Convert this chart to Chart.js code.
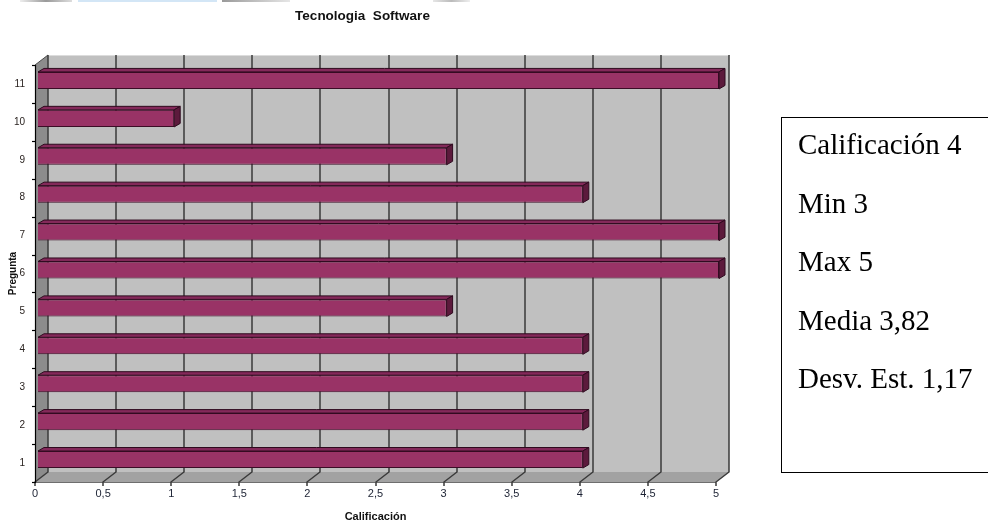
<!DOCTYPE html>
<html>
<head>
<meta charset="utf-8">
<script src="https://cdn.jsdelivr.net/npm/chart.js@4/dist/chart.umd.min.js"></script>
<style>
  html, body { margin: 0; padding: 0; background: #fff; }
  #wrap { position: relative; width: 988px; height: 524px; overflow: hidden; }
  #chart { position: absolute; left: 0; top: 0; }
  .strip { position: absolute; top: 0; height: 2px; }
  #stats {
    position: absolute; left: 781px; top: 117px; width: 240px; height: 356px;
    border: 1px solid #000; box-sizing: border-box; background: #fff;
  }
  #statsText {
    position: absolute; left: 798px; top: 115px;
    font-family: "Liberation Serif", "Times New Roman", serif;
    font-size: 29px; line-height: 58.5px; color: #000; white-space: nowrap;
  }
</style>
</head>
<body>
<div id="wrap">
  <div class="strip" style="left:20px;width:52px;background:linear-gradient(90deg,#eee,#9a9a9a,#ddd);"></div>
  <div class="strip" style="left:78px;width:139px;background:#d3e6f6;"></div>
  <div class="strip" style="left:222px;width:68px;background:linear-gradient(90deg,#9a9a9a,#e6e6e6);"></div>
  <div class="strip" style="left:433px;width:37px;background:linear-gradient(90deg,#e6e6e6,#bbb,#eee);"></div>
  <canvas id="chart" width="988" height="524"></canvas>
  <div id="stats"></div>
  <div id="statsText"></div>
</div>
<script>
// Questions (bottom to top) and their scores
const preguntas = ['1', '2', '3', '4', '5', '6', '7', '8', '9', '10', '11'];
const calificaciones = [4, 4, 4, 4, 3, 5, 5, 4, 3, 1, 5];

// Score axis range
const escalaMin = 0;
const escalaMax = 5;
const escalaPaso = 0.5;

// Summary shown in the side box
const resumen = ['Calificación 4', 'Min 3', 'Max 5', 'Media 3,82', 'Desv. Est. 1,17'];

document.getElementById('statsText').innerHTML =
  resumen.map(t => '<div>' + t + '</div>').join('');

// depth of the 3D box (walls) and of the bars
const DX = 13, DY = 10;
const BAR_SHIFT_X = 3, BAR_SHIFT_Y = 3.5;
const BDX = 6, BDY = 3.5;

function poly(ctx, pts, fill, stroke, lw) {
  ctx.beginPath();
  ctx.moveTo(pts[0][0], pts[0][1]);
  for (let i = 1; i < pts.length; i++) ctx.lineTo(pts[i][0], pts[i][1]);
  ctx.closePath();
  if (fill) { ctx.fillStyle = fill; ctx.fill(); }
  if (stroke) { ctx.strokeStyle = stroke; ctx.lineWidth = lw || 1; ctx.stroke(); }
}
function seg(ctx, x1, y1, x2, y2, color, lw) {
  ctx.beginPath();
  ctx.moveTo(x1, y1); ctx.lineTo(x2, y2);
  ctx.strokeStyle = color; ctx.lineWidth = lw || 1; ctx.stroke();
}

// Back wall, side wall, floor and grid of the 3D plot box
const walls3d = {
  id: 'walls3d',
  beforeDraw(chart) {
    const { ctx, chartArea: a, scales } = chart;
    const xs = scales.x, ys = scales.y;
    const L = a.left, R = a.right, T = a.top, B = a.bottom;
    ctx.save();
    poly(ctx, [[L, T], [L + DX, T - DY], [L + DX, B - DY], [L, B]], '#8c8c8c');
    ctx.fillStyle = '#c0c0c0';
    ctx.fillRect(L + DX, T - DY, R - L, B - T);
    poly(ctx, [[L, B], [L + DX, B - DY], [R + DX, B - DY], [R, B]], '#a2a2a2');

    // light top edge of the back wall
    seg(ctx, L + DX, T - DY + 0.5, R + DX + 1, T - DY + 0.5, '#dcdcdc', 1);
    // side wall top edge
    seg(ctx, L, T, L + DX, T - DY, '#4a4a4a', 1);
    // floor front edge
    seg(ctx, L, B + 0.5, R, B + 0.5, '#6e6e6e', 1);

    // value grid on the back wall, continued over the floor
    xs.ticks.forEach(t => {
      const px = Math.round(xs.getPixelForValue(t.value));
      ctx.beginPath();
      ctx.moveTo(px + DX, T - DY);
      ctx.lineTo(px + DX, B - DY);
      ctx.lineTo(px, B);
      ctx.lineTo(px, B + 4);
      ctx.strokeStyle = '#3a3a3a';
      ctx.lineWidth = 1.5;
      ctx.stroke();
    });

    // category axis with boundary ticks
    seg(ctx, L + 0.5, T, L + 0.5, B + 1, '#000', 1.2);
    const n = ys.ticks.length;
    const step = Math.abs(ys.getPixelForTick(1) - ys.getPixelForTick(0));
    for (let i = 0; i < n; i++) {
      const py = Math.round(ys.getPixelForTick(i) + step / 2) + 0.5;
      seg(ctx, L - 3, py, L + 1, py, '#000', 1.2);
    }
    const pyTop = Math.round(ys.getPixelForTick(n - 1) - step / 2) + 0.5;
    seg(ctx, L - 3, pyTop, L + 1, pyTop, '#000', 1.2);
    ctx.restore();
  }
};

// Bars: front face drawn by Chart.js (shifted into the box), top and end faces added here
const bars3d = {
  id: 'bars3d',
  beforeDatasetsDraw(chart) {
    chart.ctx.save();
    chart.ctx.translate(BAR_SHIFT_X, -BAR_SHIFT_Y);
  },
  afterDatasetsDraw(chart) {
    const ctx = chart.ctx;
    chart.getDatasetMeta(0).data.forEach(bar => {
      const { x, y, base, height } = bar.getProps(['x', 'y', 'base', 'height'], true);
      const top = y - height / 2, bot = y + height / 2;
      poly(ctx, [[base, top], [base + BDX, top - BDY], [x + BDX, top - BDY], [x, top]],
        '#84295a', '#2e0a1e', 1);
      poly(ctx, [[x, top], [x + BDX, top - BDY], [x + BDX, bot - BDY], [x, bot]],
        '#5c1a3c', '#2e0a1e', 1);
    });
    ctx.restore();
  }
};

Chart.defaults.font.family = '"Liberation Sans", Arial, sans-serif';

new Chart(document.getElementById('chart'), {
  type: 'bar',
  data: {
    labels: preguntas,
    datasets: [{
      data: calificaciones,
      backgroundColor: '#993366',
      borderColor: '#3b0d26',
      borderWidth: 1,
      barPercentage: 0.45,
      categoryPercentage: 1.0
    }]
  },
  options: {
    indexAxis: 'y',
    responsive: false,
    animation: false,
    devicePixelRatio: 1,
    events: [],
    layout: { padding: { left: 9, right: 272, top: 0, bottom: 0 } },
    plugins: {
      legend: { display: false },
      tooltip: { enabled: false },
      title: {
        display: true,
        text: 'Tecnologia  Software',
        color: '#111',
        font: { size: 13.5, weight: 'bold' },
        padding: { top: 7.9, bottom: 40.9 }
      }
    },
    scales: {
      x: {
        type: 'linear',
        min: escalaMin,
        max: escalaMax,
        grid: { display: false, drawTicks: false },
        border: { display: false },
        ticks: {
          stepSize: escalaPaso,
          padding: 5.5,
          color: '#1c2233',
          font: { size: 11 },
          callback: v => String(v).replace('.', ',')
        },
        title: {
          display: true,
          text: 'Calificación',
          color: '#111',
          font: { size: 11, weight: 'bold' },
          padding: { top: 0, bottom: 0 }
        },
        afterFit(s) { s.height = 42; }
      },
      y: {
        type: 'category',
        reverse: true,
        offset: true,
        grid: { display: false, drawTicks: false },
        border: { display: false },
        ticks: {
          padding: 10,
          color: '#2a2320',
          font: { size: 10 }
        },
        title: {
          display: true,
          text: 'Pregunta',
          color: '#111',
          font: { size: 10, weight: 'bold' },
          padding: { top: -2, bottom: 0 }
        },
        afterFit(s) { s.width = 26; }
      }
    }
  },
  plugins: [walls3d, bars3d]
});
</script>
</body>
</html>
